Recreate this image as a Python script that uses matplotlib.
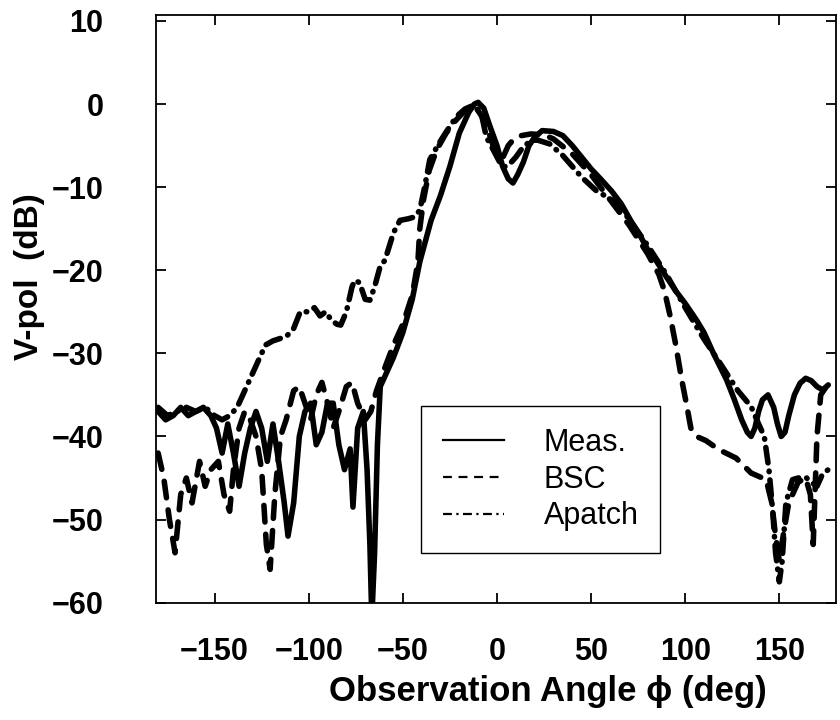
import matplotlib
matplotlib.use("Agg")
import matplotlib.pyplot as plt
from matplotlib.lines import Line2D

plt.rcParams['font.family'] = ['Liberation Sans', 'DejaVu Sans']

# Meas. (solid)
meas_deg = [-180, -176, -172, -168, -164, -160, -156, -152, -149, -146, -143, -140, -137,
            -134, -131, -128, -125, -122, -119, -116, -113, -111, -108, -105, -102, -99,
            -96, -93, -90, -87, -84, -81, -78, -76.5, -74, -71, -69, -67.5, -66.5, -65,
            -63.5, -62, -60, -55, -50, -45, -41, -35, -30, -25, -20, -15, -12, -10, -7,
            -4, 0, 3, 6, 8.5, 11, 14, 17, 20, 24, 30, 35, 40, 45, 50, 55, 61, 66, 71, 76,
            80, 85, 90, 95, 100, 106, 110, 115, 122, 126, 130, 133, 135, 137, 139, 141,
            144, 147, 149, 151, 153, 155, 158, 161, 164, 167, 170, 173, 176]
meas_db = [-37, -38, -37.5, -36.5, -37.5, -37, -36.5, -37.5, -39, -42, -38.5, -42, -46,
           -42, -39, -37, -39, -43, -38.5, -43, -48, -52, -48, -40, -37, -36,
           -41, -39.5, -36, -36, -41, -44, -41.5, -48.5, -39, -37, -44, -53, -62, -54,
           -41, -34, -33, -30.5, -27.5, -23.5, -19, -14, -11, -7.5, -3.5, -1, 0, 0.2, -0.5,
           -2.5, -5, -7.5, -9, -9.5, -8.5, -7, -5, -4, -3.2, -3.3, -3.8, -5, -6.4, -7.8, -9, -10.5,
           -12, -14, -15.8, -17.5, -19, -20.8, -22.5, -24, -26, -27.5, -30, -33.2, -35.5, -38,
           -39.5, -40, -39, -37, -35.6, -35, -36.5, -38.5, -40, -39.5, -37.5, -35, -33.6,
           -33, -33.3, -34, -34.4, -33.8]

# BSC (dashed)
bsc_deg = [-180, -177, -174, -171, -168, -165, -162, -158, -155, -152, -148, -145, -142,
           -140, -137, -134, -131, -128, -125, -122.5, -120.5, -118, -115, -112, -108, -105,
           -102, -99, -96, -93, -90, -87, -84, -80, -77, -74, -70, -67, -64, -60, -55, -50,
           -45, -42, -41, -39, -36, -32, -27, -22, -17, -14, -11, -8, -5, -2, 1, 3, 6, 9,
           13, 18, 25, 30, 40, 50, 60, 70, 80, 86, 89, 92, 95, 98, 101, 103, 106, 111, 118,
           127, 135, 143, 146, 148, 150, 152, 155, 160, 164, 166.5, 168, 170, 172, 175]
bsc_db = [-42, -45, -50, -54, -47, -45, -48, -43, -46, -44, -43, -47, -49,
          -44, -39, -37, -38, -40, -44, -53, -56, -47, -40, -38, -34.5, -34,
          -36, -38, -35, -33.5, -36, -39, -37, -34, -33.5, -36, -38, -37, -34.5, -32, -29, -26.5,
          -23, -19, -15, -11.5, -8, -5.5, -3.5, -2, -0.8, -0.3, -0.5, -1.5, -3, -5, -6.3, -6.5,
          -5, -4.2, -3.8, -3.6, -3.7, -4.2, -6, -8.5, -11.5, -14.5, -18, -20.5, -22.5, -25.5,
          -29, -33, -36.5, -39, -40, -40.5, -41.6, -42.6, -44.4, -45.2, -48, -52, -55, -52,
          -48, -45.5, -45, -47, -53, -40, -35, -34]

# Apatch (dash-dot)
apatch_deg = [-180, -175, -170, -165, -160, -155, -150, -146, -142, -138, -134, -130, -126,
              -123, -119, -115, -112, -108, -104.5, -100, -97, -94, -91, -88, -85, -83, -80,
              -77, -75.5, -73, -70, -67.5, -65, -62, -59.5, -55, -51.5, -47, -44, -41, -38,
              -35.7, -31, -26.8, -21.5, -17, -13, -11, -8, -5.6, -2, 1, 3, 6, 10, 13.8, 17, 21,
              28, 35, 45, 52.6, 63, 70, 80, 90, 100, 110, 118, 122, 128, 135, 139, 142, 144.5,
              146.5, 148, 150, 151.5, 153.5, 157, 160, 164, 167, 170, 173, 176]
apatch_db = [-36.5, -37.5, -37, -36.5, -37, -36.5, -37.5, -38, -37.5, -36.5, -34.5, -32.5, -30.5,
             -29, -28.5, -28.2, -28, -27, -25, -25, -24.5, -25.5, -25, -26, -26.5, -26.6, -25,
             -22, -21.2, -21.5, -23.5, -23.6, -22, -19.5, -18.8, -15.5, -14, -13.8, -13.6, -12.8, -9.5,
             -6.7, -4.8, -3.3, -1.5, -0.6, -0.2, -0.3, -1.5, -4, -5.5, -6.8, -7.6, -7.4, -6.4,
             -5.2, -4.6, -4.3, -4.8, -6.2, -8.8, -10.4, -11.8, -13.8, -17, -20.5, -24.5, -28.3,
             -31, -32.4, -34.5, -36.4, -38.5, -40, -44, -49, -54, -57.5, -55, -48, -45.2,
             -45, -44.9, -45.5, -46, -44.5, -44]

fig = plt.figure(figsize=(8.4, 7.2), dpi=100)
ax = fig.add_axes([0.186, 0.163, 0.809, 0.816])

lw = 4.0
ax.plot(meas_deg, meas_db, color="black", lw=lw, solid_capstyle="round",
        solid_joinstyle="round")
ax.plot(bsc_deg, bsc_db, color="black", lw=lw, dashes=(3.0, 2.2),
        dash_capstyle="round", dash_joinstyle="round")
ax.plot(apatch_deg, apatch_db, color="black", lw=lw, dashes=(2.8, 1.5, 0.1, 1.5),
        dash_capstyle="round", dash_joinstyle="round")

ax.set_xlim(-181, 180)
ax.set_ylim(-60, 10.7)
ax.set_xticks([-150, -100, -50, 0, 50, 100, 150])
ax.set_yticks([-60, -50, -40, -30, -20, -10, 0, 10])
ax.tick_params(direction="in", length=7, width=1.3, top=True, right=True,
               labelsize=22)
ax.tick_params(axis="x", pad=25)
ax.tick_params(axis="y", pad=38)
for lab in ax.get_xticklabels() + ax.get_yticklabels():
    lab.set_fontweight("bold")
for sp in ax.spines.values():
    sp.set_linewidth(1.3)

ax.set_xlabel("Observation Angle \u03d5 (deg)", fontsize=25, fontweight="bold")
ax.set_ylabel("V-pol  (dB)", fontsize=24, fontweight="bold")
ax.xaxis.set_label_coords(0.576, -0.123)
ax.yaxis.set_label_coords(-0.163, 0.555)

handles = [Line2D([], [], color="black", lw=1.6),
           Line2D([], [], color="black", lw=1.6, dashes=(4, 3)),
           Line2D([], [], color="black", lw=1.6, dashes=(4, 2, 1, 2))]
leg = ax.legend(handles, ["Meas.", "BSC", "Apatch"], loc="lower left",
                bbox_to_anchor=(0.39, 0.085), fontsize=22, frameon=True,
                fancybox=False, edgecolor="black", framealpha=1,
                handlelength=2.0, handletextpad=1.3, labelspacing=0.22,
                borderpad=0.7, borderaxespad=0)
leg.get_frame().set_linewidth(1.0)

fig.savefig("out.png", dpi=100)
